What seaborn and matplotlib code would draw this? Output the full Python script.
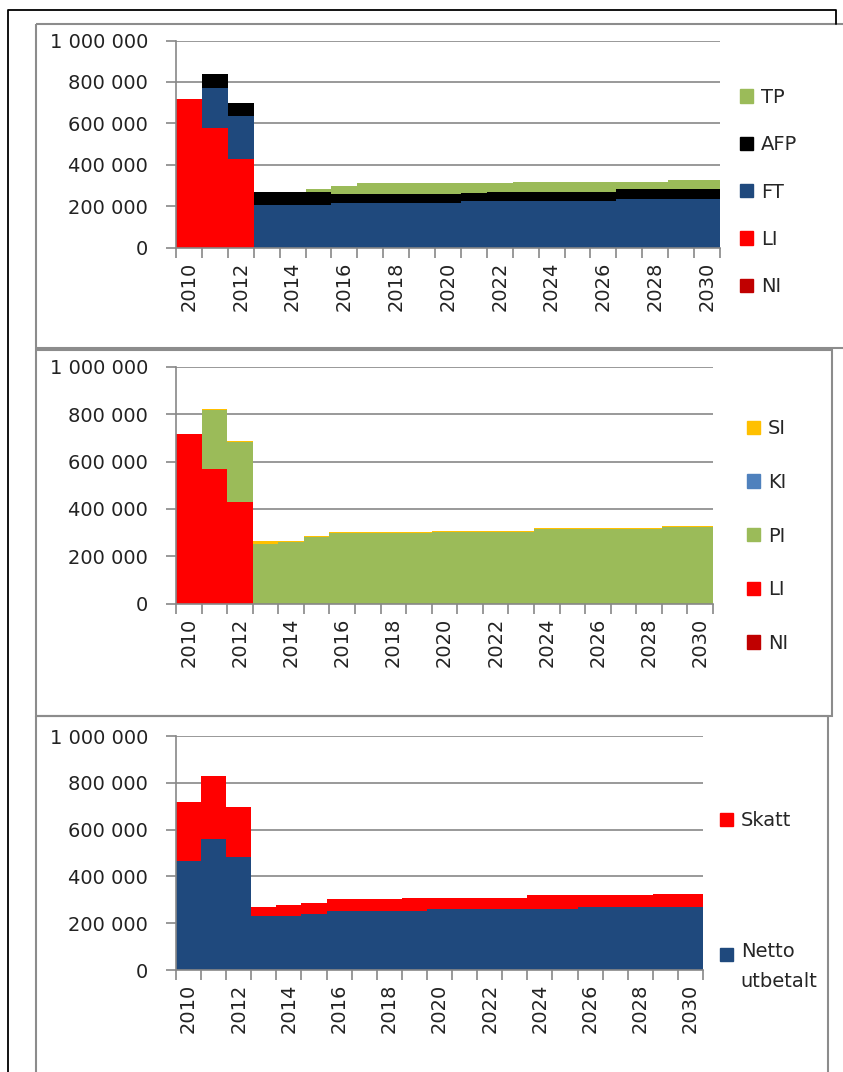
import numpy as np
import matplotlib
matplotlib.use("Agg")
import matplotlib.pyplot as plt
from matplotlib.patches import Rectangle, Patch
from matplotlib.lines import Line2D
from matplotlib.transforms import Affine2D
from matplotlib.ticker import FuncFormatter, FixedLocator
from matplotlib.legend_handler import HandlerPatch
import seaborn as sns

sns.set_style("white")
plt.rcParams['font.family'] = ['DejaVu Sans']

# ---- data ----
years = [str(y) for y in range(2010, 2031)]

# panel 1: pension sources
NI1 = [0] * 21
LI1 = [720000, 580000, 430000] + [0] * 18
FT1 = [0, 191000, 204000, 206000, 206000, 206000, 216000, 216000, 216000, 216000, 216000,
       226000, 226000, 226000, 226000, 226000, 226000, 234000, 234000, 234000, 234000]
AFP1 = [0, 66000, 63000, 65000, 65000, 65000, 45000, 45000, 45000, 45000, 45000,
        37000, 45000, 45000, 45000, 45000, 45000, 48000, 48000, 48000, 48000]
TP1 = [0, 0, 0, 0, 0, 11000, 39000, 49000, 49000, 49000, 49000,
       47000, 39000, 48000, 48000, 48000, 48000, 37000, 37000, 45000, 45000]

# panel 2: income types
NI2 = [0] * 21
LI2 = [715000, 568000, 430000] + [0] * 18
PI2 = [0, 250000, 252000, 252000, 259000, 282000, 297000, 297000, 297000, 297000, 304000,
       304000, 304000, 304000, 314000, 314000, 314000, 314000, 314000, 322000, 322000]
KI2 = [0] * 21
SI2 = [0, 6000, 6000, 14000, 7000, 5000, 4000, 4000, 4000, 4000, 4000,
       4000, 4000, 4000, 4000, 4000, 4000, 4000, 4000, 4000, 4000]

# panel 3: net vs tax
netto = [467000, 558000, 484000, 231000, 231000, 239000, 254000, 254000, 254000, 254000, 261000,
         261000, 261000, 261000, 261000, 261000, 270000, 270000, 270000, 270000, 270000]
skatt = [253000, 270000, 212000, 39000, 47000, 49000, 48000, 48000, 48000, 55000, 48000,
         48000, 48000, 48000, 58000, 58000, 49000, 49000, 49000, 56000, 56000]

RED = '#FF0000'
DRED = '#C00000'
NAVY = '#1F497D'
GREEN = '#9BBB59'
BLUE = '#4F81BD'
GOLD = '#FFC000'
GRID = '#878787'

W, H = 843, 1072
fig = plt.figure(figsize=(W / 100, H / 100), dpi=100, facecolor='white')
pix = Affine2D().scale(1 / W, -1 / H).translate(0, 1) + fig.transFigure


def add_ax(left, top, right, bottom):
    return fig.add_axes([left / W, 1 - bottom / H, (right - left) / W, (bottom - top) / H])


def stacked(ax, layers, colors):
    # draw cumulative totals from the top layer down so each one covers the next
    cum = np.cumsum(np.array(layers, dtype=float), axis=0)
    for i in reversed(range(len(layers))):
        sns.barplot(x=years, y=cum[i], order=years, color=colors[i], saturation=1,
                    width=1, linewidth=0, errorbar=None, ax=ax)
    ax.set_xlim(-0.5, 20.5)
    ax.set_ylim(0, 1000000)
    ax.set_xlabel('')
    ax.set_ylabel('')
    ax.set_facecolor('none')
    ax.set_axisbelow(True)
    ax.yaxis.grid(True, color=GRID, linewidth=1.2)
    ax.set_yticks(np.arange(0, 1000001, 200000))
    ax.yaxis.set_major_formatter(FuncFormatter(lambda v, p: f"{int(v):,}".replace(",", " ")))
    ax.set_xticks(range(0, 21, 2))
    ax.set_xticklabels(years[::2], rotation=90)
    ax.xaxis.set_minor_locator(FixedLocator(np.arange(-0.5, 21, 1)))
    ax.tick_params(axis='x', which='major', length=0, pad=10, labelsize=14, colors='#222222')
    ax.tick_params(axis='x', which='minor', length=7, width=1.2, color=GRID, bottom=True)
    ax.tick_params(axis='y', length=7, width=1.2, color=GRID, pad=13, labelsize=14,
                   labelcolor='#222222', left=True)
    for s in ['top', 'right']:
        ax.spines[s].set_visible(False)
    for s in ['left', 'bottom']:
        ax.spines[s].set_color(GRID)
        ax.spines[s].set_linewidth(1.2)


def legend(handles, x, y, spacing, **kw):
    return fig.legend(handles=handles, loc=kw.pop('loc', 'center left'), bbox_to_anchor=(x, y),
                      bbox_transform=pix, frameon=False, fontsize=14, handlelength=0.67,
                      handleheight=kw.pop('handleheight', 0.67), handletextpad=0.4,
                      labelspacing=spacing, borderpad=0, borderaxespad=0, **kw)


def top_square(legend, orig_handle, xdescent, ydescent, width, height, fontsize):
    # square sitting at the top of a tall handle box (first line of a two-line label)
    return Rectangle((-xdescent, height - ydescent - width), width, width)


# chart area frames
fig.add_artist(Line2D([8, 8, 836, 836], [1080, 10, 10, 24], transform=pix, color='black', lw=1.3))
fig.add_artist(Rectangle((36, 24), 820, 324, transform=pix, fill=False, edgecolor='#8C8C8C', lw=1.5))
fig.add_artist(Rectangle((36, 350), 796, 366, transform=pix, fill=False, edgecolor='#8C8C8C', lw=1.5))
fig.add_artist(Rectangle((36, 716), 792, 380, transform=pix, fill=False, edgecolor='#8C8C8C', lw=1.5))

ax1 = add_ax(176, 40.5, 720, 247.7)
stacked(ax1, [NI1, LI1, FT1, AFP1, TP1], [DRED, RED, NAVY, 'black', GREEN])
legend([Patch(color=GREEN, label='TP'), Patch(color='black', label='AFP'),
        Patch(color=NAVY, label='FT'), Patch(color=RED, label='LI'),
        Patch(color=DRED, label='NI')], 740, 192, 1.46)

ax2 = add_ax(176, 367, 713, 603.5)
stacked(ax2, [NI2, LI2, PI2, KI2, SI2], [DRED, RED, GREEN, BLUE, GOLD])
legend([Patch(color=GOLD, label='SI'), Patch(color=BLUE, label='KI'),
        Patch(color=GREEN, label='PI'), Patch(color=RED, label='LI'),
        Patch(color=DRED, label='NI')], 747, 536, 1.78)

ax3 = add_ax(176, 736, 703, 970)
stacked(ax3, [netto, skatt], [NAVY, RED])
legend([Patch(color=RED, label='Skatt')], 720, 821, 1)
netto_patch = Patch(color=NAVY, label='Netto\nutbetalt')
leg = legend([netto_patch], 720, 942, 1, loc='upper left', handleheight=2.8,
             handler_map={Patch: HandlerPatch(patch_func=top_square)})
for t in leg.get_texts():
    t.set_linespacing(1.75)

fig.savefig('out.png', dpi=100, facecolor='white')
